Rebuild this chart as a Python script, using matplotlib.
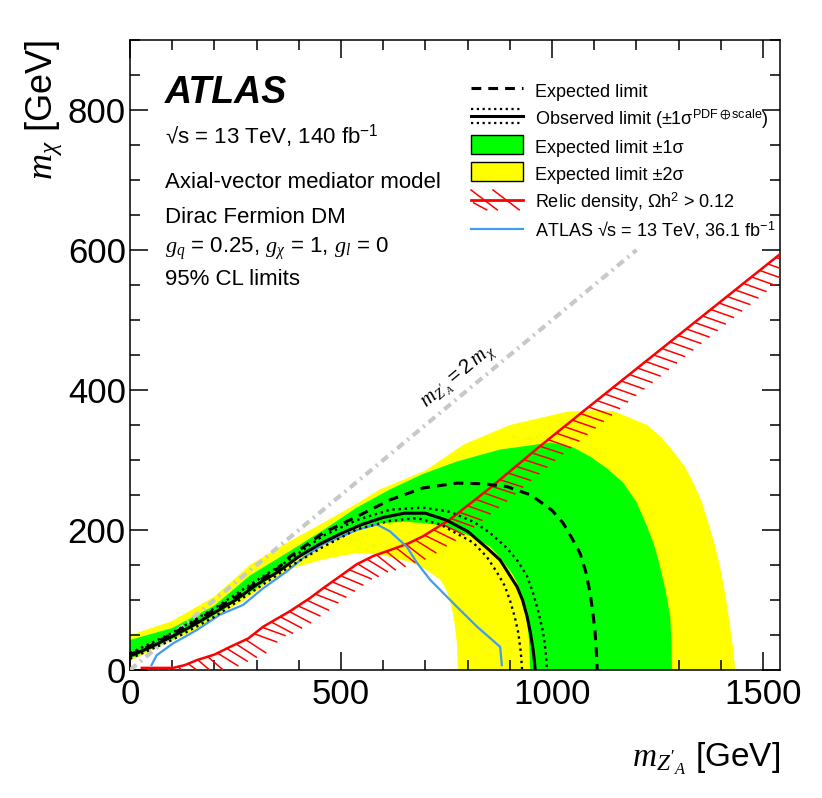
import numpy as np
import matplotlib
matplotlib.use("Agg")
import matplotlib.pyplot as plt
import matplotlib.patheffects as pe
from matplotlib.lines import Line2D
from matplotlib.patches import Patch, Rectangle
from matplotlib.legend_handler import HandlerBase
from matplotlib.ticker import MultipleLocator

plt.rcParams['font.family'] = ['Liberation Sans', 'DejaVu Sans']
plt.rcParams['mathtext.fontset'] = 'custom'
plt.rcParams['mathtext.rm'] = 'Liberation Sans'
plt.rcParams['mathtext.sf'] = 'Liberation Sans'
plt.rcParams['mathtext.it'] = 'Liberation Serif:italic'
plt.rcParams['mathtext.bf'] = 'Liberation Sans:bold'
plt.rcParams['mathtext.fallback'] = 'stix'

# expected +-2 sigma band (outer / inner edge)
yel_out_x = [0, 100, 200, 284, 363, 442, 521, 592, 700, 790, 900, 1035, 1100, 1145, 1225, 1260, 1290, 1315, 1334,
             1355, 1370, 1385, 1398, 1410, 1420, 1428, 1434]
yel_out_y = [50, 70, 105, 150, 179, 205, 232, 258, 285, 322, 350, 369, 371, 370, 350, 332, 310, 290, 268,
             240, 210, 180, 147, 110, 70, 35, 0]
yel_in_x = [0, 100, 158, 213, 268, 316, 372, 400, 458, 537, 592, 671, 705, 735, 748, 755, 763, 768, 772, 775, 777]
yel_in_y = [13, 42, 58, 80, 98, 120, 143, 148, 158, 167, 165, 153, 142, 129, 116, 105, 88, 70, 52, 35, 0]

# expected +-1 sigma band
grn_out_x = [0, 100, 200, 284, 379, 458, 537, 616, 694, 775, 877, 998, 1050, 1090, 1130, 1168, 1200, 1225,
             1242, 1256, 1270, 1280, 1283, 1284]
grn_out_y = [43, 60, 92, 135, 170, 200, 232, 258, 280, 298, 315, 325, 318, 305, 288, 268, 240, 205,
             178, 147, 110, 76, 35, 0]
grn_in_x = [0, 100, 200, 300, 379, 458, 537, 600, 656, 735, 813, 853, 875, 890, 905, 917, 928, 935, 941, 945, 947, 948]
grn_in_y = [16, 44, 78, 117, 153, 182, 203, 210, 212, 207, 190, 176, 162, 150, 138, 125, 108, 90, 68, 45, 22, 0]

# expected limit
exp_x = [0, 50, 100, 150, 200, 250, 300, 350, 379, 458, 537, 616, 694, 775, 837, 893, 950, 1000, 1026, 1050,
         1066, 1080, 1090, 1097, 1102, 1105, 1107]
exp_y = [22, 35, 52, 68, 86, 104, 125, 145, 162, 196, 219, 243, 260, 267, 266, 262, 250, 228, 210, 185,
         167, 140, 110, 80, 53, 25, 0]

# observed limit and its theory variations
obs_x = [0, 50, 100, 150, 200, 250, 300, 350, 400, 450, 500, 550, 600, 650, 700, 750, 800, 850, 877, 900, 917,
         930, 941, 949, 955, 958, 960]
obs_y = [20, 33, 48, 64, 82, 100, 122, 140, 162, 180, 195, 208, 218, 224, 224, 214, 198, 172, 157, 135, 119,
         100, 76, 52, 29, 14, 0]
obs_up_x = [0, 100, 200, 300, 379, 458, 537, 616, 694, 758, 813, 853, 890, 917, 940, 955, 968, 979, 985, 988]
obs_up_y = [24, 53, 88, 128, 158, 192, 214, 229, 232, 226, 212, 196, 176, 157, 135, 110, 82, 53, 25, 0]
obs_dn_x = [0, 100, 200, 300, 379, 458, 537, 616, 680, 735, 813, 845, 870, 888, 900, 912, 920, 926, 929]
obs_dn_y = [16, 43, 76, 116, 148, 176, 201, 213, 217, 208, 182, 162, 139, 120, 100, 75, 53, 25, 0]

# previous ATLAS result, 36.1 fb-1
old_x = [51, 63, 102, 158, 213, 268, 316, 372, 410, 458, 537, 585, 616, 656, 680, 711, 742, 775, 822, 877, 881]
old_y = [7, 21, 38, 57, 79, 93, 117, 141, 160, 180, 200, 208, 198, 176, 153, 129, 110, 90, 62, 33, 7]

# relic density line
relic_x = [28, 102, 130, 158, 200, 237, 280, 316, 379, 427, 458, 500, 537, 577, 624, 660, 694, 758, 853, 972, 1083, 1540]
relic_y = [3, 3, 7, 14, 22, 33, 45, 62, 84, 103, 117, 135, 151, 163, 173, 181, 191, 215, 260, 320, 374, 594]

# m_Z = 2 m_chi
diag_x = [0, 1200]
diag_y = [0, 600]

DOT = (0, (1, 1.6))


class ObsHandler(HandlerBase):
    def create_artists(self, legend, orig_handle, xdescent, ydescent, width, height, fontsize, trans):
        yc = (height - ydescent) / 2
        x = [-xdescent, -xdescent + width]
        arts = []
        for dy, ls, lw in [(0.38, DOT, 1.6), (0, '-', 2.2), (-0.38, DOT, 1.6)]:
            y = yc + dy * fontsize
            arts.append(Line2D(x, [y, y], color='black', linestyle=ls, linewidth=lw, transform=trans))
        return arts


class BoxHandler(HandlerBase):
    def create_artists(self, legend, orig_handle, xdescent, ydescent, width, height, fontsize, trans):
        yc = (height - ydescent) / 2
        h = 1.05 * fontsize
        r = Rectangle((-xdescent, yc - h / 2), width, h, facecolor=orig_handle.get_facecolor(),
                      edgecolor='black', linewidth=1.0, transform=trans)
        return [r]


class RelicHandler(HandlerBase):
    def create_artists(self, legend, orig_handle, xdescent, ydescent, width, height, fontsize, trans):
        yc = (height - ydescent) / 2
        h = 0.55 * fontsize
        x0 = -xdescent
        arts = [Line2D([x0, x0 + width], [yc, yc], color='red', linewidth=2.0, transform=trans)]
        for f in [0.0, 0.42]:
            arts.append(Line2D([x0 + f * width, x0 + (f + 0.5) * width], [yc + h, yc - h],
                               color='red', linewidth=1.1, transform=trans))
        arts.append(Line2D([x0 + 0.05 * width, x0 + 0.3 * width], [yc - 0.3 * h, yc - h],
                           color='red', linewidth=1.1, transform=trans))
        return arts


fig = plt.figure(figsize=(8.22, 7.98), dpi=100)
ax = fig.add_axes([130 / 822, 1 - 670 / 798, 650 / 822, 630 / 798])

ax.fill(np.r_[yel_out_x, yel_in_x[::-1]], np.r_[yel_out_y, yel_in_y[::-1]], color='#ffff00', lw=0, zorder=1)
ax.fill(np.r_[grn_out_x, grn_in_x[::-1]], np.r_[grn_out_y, grn_in_y[::-1]], color='#00ff00', lw=0, zorder=2)

ax.plot(relic_x, relic_y, color='red', lw=1.8, zorder=3,
        path_effects=[pe.TickedStroke(angle=-58, spacing=7.5, length=2.3, linewidth=1.1), pe.Normal()])
ax.plot(diag_x, diag_y, color='#c8c8c8', lw=3.0, linestyle=(0, (2.0, 1.2, 0.5, 1.2)), zorder=4)
ax.plot(old_x, old_y, color='#3f9cf0', lw=1.6, zorder=5)
ax.plot(obs_up_x, obs_up_y, color='black', lw=1.7, linestyle=DOT, zorder=6)
ax.plot(obs_dn_x, obs_dn_y, color='black', lw=1.7, linestyle=DOT, zorder=6)
ax.plot(obs_x, obs_y, color='black', lw=2.2, zorder=7)
ax.plot(exp_x, exp_y, color='black', lw=2.2, linestyle=(0, (3.2, 2.3)), zorder=7)

ax.set_xlim(0, 1540)
ax.set_ylim(0, 900)
ax.xaxis.set_major_locator(MultipleLocator(500))
ax.xaxis.set_minor_locator(MultipleLocator(100))
ax.yaxis.set_major_locator(MultipleLocator(200))
ax.yaxis.set_minor_locator(MultipleLocator(50))
ax.tick_params(which='both', direction='in', top=True, right=True, width=1.1, labelsize=25)
ax.tick_params(which='major', length=13)
ax.tick_params(which='minor', length=7)
ax.tick_params(axis='y', pad=3)
ax.tick_params(axis='x', pad=6)
for s in ax.spines.values():
    s.set_linewidth(1.1)

ax.set_xlabel(r"$m_{Z'_{A}}$ [GeV]", fontsize=24, loc='right')
ax.xaxis.set_label_coords(1.0, -0.154)
ax.xaxis.label.set_verticalalignment('baseline')
ax.set_ylabel(r"$m_{\chi}$ [GeV]", fontsize=26, loc='top')
ax.yaxis.set_label_coords(-0.12, 1.0)
ax.yaxis.label.set_verticalalignment('baseline')

tx = 0.054
ax.text(tx, 0.900, "ATLAS", transform=ax.transAxes, fontsize=27, fontweight='bold', style='italic')
ax.text(tx, 0.8365, r"√s = 13 TeV, 140 fb$^{\mathrm{-1}}$", transform=ax.transAxes, fontsize=16)
ax.text(tx, 0.765, "Axial-vector mediator model", transform=ax.transAxes, fontsize=16)
ax.text(tx, 0.7095, "Dirac Fermion DM", transform=ax.transAxes, fontsize=16)
ax.text(tx, 0.662, r"$g_{q}$ = 0.25, $g_{\chi}$ = 1, $g_{l}$ = 0", transform=ax.transAxes, fontsize=16)
ax.text(tx, 0.611, "95% CL limits", transform=ax.transAxes, fontsize=16)

ax.text(777, 419, r"$m_{Z'_{A}} = 2\,m_{\chi}$", fontsize=15, rotation=np.degrees(np.arctan(0.5)),
        transform_rotates_text=True, rotation_mode='anchor', ha='center', va='center', zorder=8)

h_exp = Line2D([], [], color='black', lw=2.2, linestyle=(0, (3.2, 2.3)))
h_obs = Line2D([], [], color='black')
h_grn = Patch(facecolor='#00ff00')
h_yel = Patch(facecolor='#ffff00')
h_rel = Line2D([], [], color='red')
h_old = Line2D([], [], color='#3f9cf0', lw=1.6)
labels = ["Expected limit",
          r"Observed limit ($\pm$1$\mathrm{\sigma}^{\mathrm{PDF}\oplus\mathrm{scale}}$)",
          "Expected limit ±1σ",
          "Expected limit ±2σ",
          r"Relic density, Ωh$^{\mathrm{2}}$ > 0.12",
          r"ATLAS √s = 13 TeV, 36.1 fb$^{\mathrm{-1}}$"]
leg = ax.legend([h_exp, h_obs, h_grn, h_yel, h_rel, h_old], labels,
                handler_map={h_obs: ObsHandler(), h_grn: BoxHandler(), h_yel: BoxHandler(), h_rel: RelicHandler()},
                loc='upper left', bbox_to_anchor=(0.5246, 0.9365), frameon=False, fontsize=13,
                handlelength=2.9, handletextpad=0.66, handleheight=1.45, labelspacing=0.32,
                borderpad=0, borderaxespad=0)
leg.set_zorder(10)

fig.savefig("out.png", dpi=100)
